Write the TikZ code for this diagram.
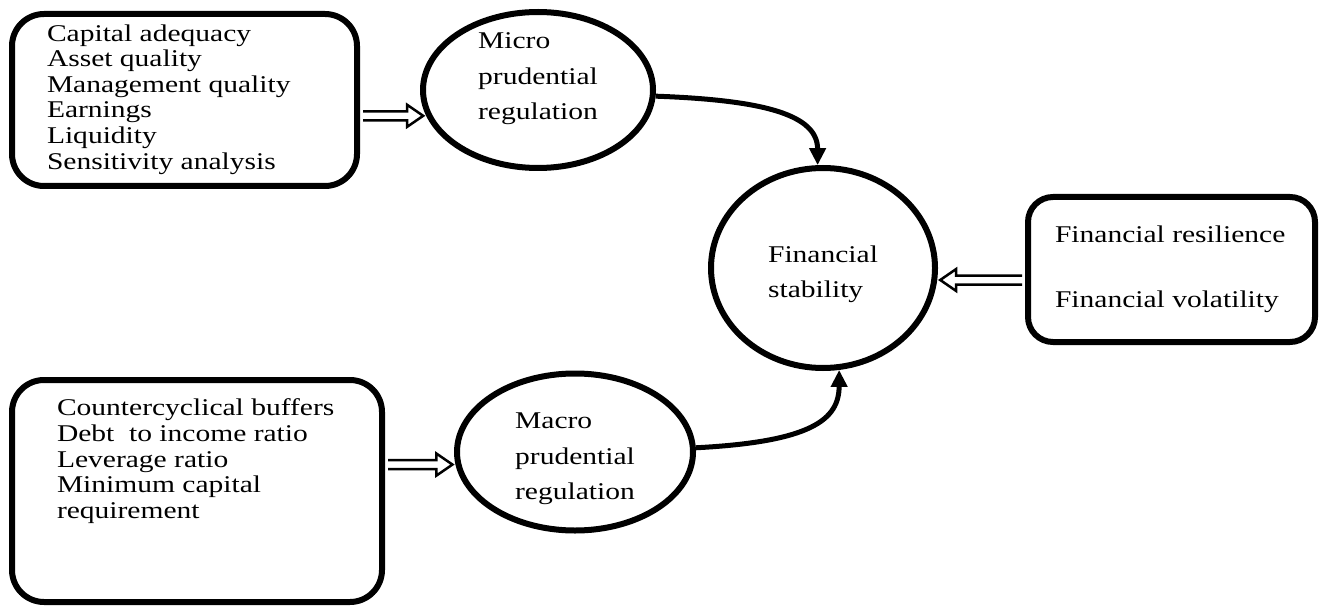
\documentclass[tikz,border=0pt]{standalone}
\usepackage{fontspec}
\setmainfont{Liberation Serif}[FakeStretch=1.23]
\usetikzlibrary{shapes.geometric,arrows.meta,calc}

\tikzset{
  every node/.style={font=\fontsize{24}{25.6}\selectfont},
  listbox/.style={draw, line width=6pt, rounded corners=32pt, inner sep=0pt},
  regbubble/.style={draw, ellipse, line width=6pt, inner sep=0pt,
    font=\fontsize{24}{35.5}\selectfont},
  link/.style={line width=5pt, -{Triangle[length=17pt,width=16pt]}},
  hollowarrow/.style={line width=2.5pt, fill=white, line join=miter},
}

% outlined block arrow between two points on the same horizontal line
\newcommand\hollowlink[2]{%
  \draw[hollowarrow] let \p1=(#1), \p2=(#2), \n1={sign(\x2-\x1)} in
    ({\x1+\n1*3pt},\y1+4.5pt) -- ({\x2-\n1*19pt},\y1+4.5pt)
    -- ({\x2-\n1*19pt},\y1+11pt) -- ({\x2-\n1*3pt},\y1)
    -- ({\x2-\n1*19pt},\y1-11pt) -- ({\x2-\n1*19pt},\y1-4.5pt)
    -- ({\x1+\n1*3pt},\y1-4.5pt);}

% left-aligned lines that never wrap
\newcommand\listlines[1]{\begin{tabular}{@{}l@{}}#1\end{tabular}}
% the same, moved up by #1 without changing the box the node centres
\newcommand\bubbletext[2]{\raisebox{#1}[\height][\depth]{\listlines{#2}}}

\begin{document}
\begin{tikzpicture}[x=1pt,y=-1pt]
  \fill[white] (0,0) rectangle (1321,612);
  \useasboundingbox (0,0) rectangle (1321,612);

  % indicator lists
  \node[listbox, minimum width=345pt, minimum height=172pt] (box1) at (184.5,100)
    {\parbox{275pt}{\listlines{Capital adequacy\\Asset quality\\Management quality\\
      Earnings\\Liquidity\\Sensitivity analysis}}};
  \node[listbox, minimum width=370pt, minimum height=222pt] (box2) at (197,491)
    {\parbox[c][186pt][t]{280pt}{\listlines{Countercyclical buffers\\Debt\ \ to income ratio\\
      Leverage ratio\\Minimum capital\\requirement}}};
  \node[listbox, rounded corners=25pt, minimum width=287pt, minimum height=145pt] (rbox) at (1171.5,269.5)
    {\parbox{233pt}{\listlines{Financial resilience\\[39.4pt]Financial volatility}}};

  % regulation and outcome
  \node[regbubble, minimum width=230pt, minimum height=156pt] (micro) at (538,90)
    {\bubbletext{13pt}{Micro\\prudential\\regulation}};
  \node[regbubble, minimum width=224pt, minimum height=200pt] (fin) at (823,268)
    {\bubbletext{-5pt}{Financial\\stability}};
  \node[regbubble, minimum width=236pt, minimum height=157pt] (macro) at (575,452)
    {\bubbletext{-5pt}{Macro\\prudential\\regulation}};

  % connectors
  \hollowlink{box1.east |- micro.193}{micro.193}
  \hollowlink{box2.east |- macro.186}{macro.186}
  \hollowlink{rbox.west |- fin.-6}{fin.-6}

  \draw[link] (micro.357) .. controls +(110,4) and +(0,-50) .. (fin.93);
  \draw[link] (macro.2) .. controls +(115,-6) and +(0,50) .. (fin.-81);
\end{tikzpicture}
\end{document}
